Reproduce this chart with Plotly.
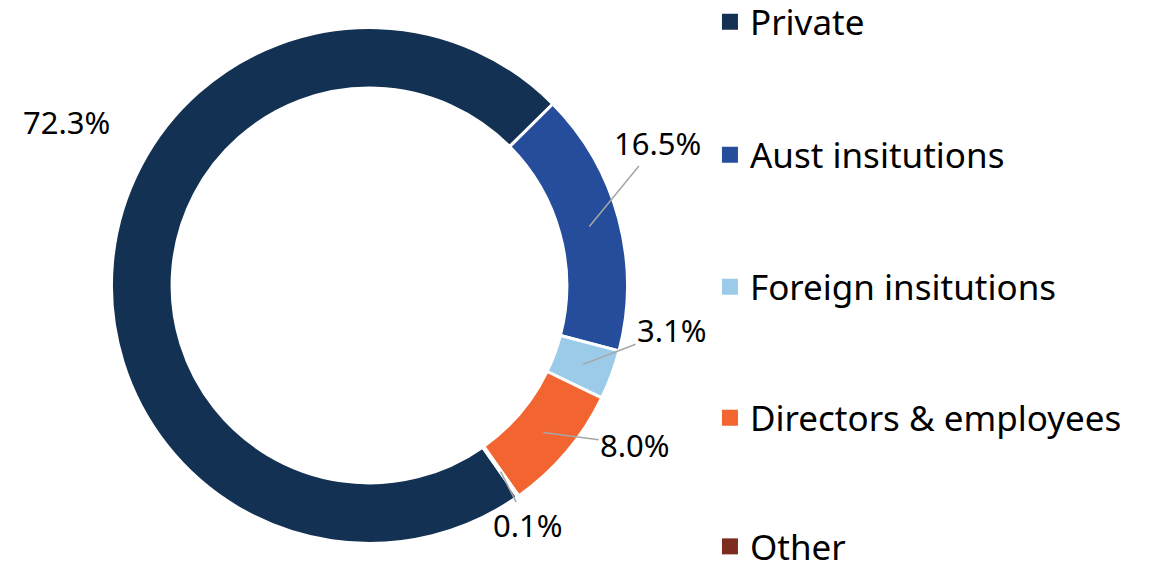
import math
import plotly.graph_objects as go

labels = ["Private", "Aust insitutions", "Foreign insitutions", "Directors & employees", "Other"]
shares = [72.3, 16.5, 3.1, 8.0, 0.1]
colors = ["#133152", "#264d9b", "#9ccbea", "#f26531", "#7d2a1f"]

# the page body has an 8px margin, so the figure is sized to what stays visible
W, H = 1150, 557
ROTATION = 145
HOLE = 0.765
DOM_X = [0.0843, 0.5443]
DOM_Y = [0.0386, 0.965]

# label offsets (px) from the middle of each slice, Excel-style placement
label_offsets = [(-76, -143), (68, -83), (89, -34), (92, 12), (27, 53)]
# legend item centres (paper y), one legend per item to mimic the wide spacing
legend_y = [0.975, 0.736, 0.499, 0.264, 0.033]

fig = go.Figure()

fig.add_trace(go.Pie(
    labels=labels,
    values=shares,
    textinfo="none",
    hole=HOLE,
    sort=False,
    direction="clockwise",
    rotation=ROTATION,
    marker=dict(colors=colors, line=dict(color="white", width=3)),
    showlegend=False,
    hoverinfo="label+percent",
    domain=dict(x=DOM_X, y=DOM_Y),
))

# slice mid-points (on the ring) in paper coordinates
cx = (DOM_X[0] + DOM_X[1]) / 2 * W
cy = (1 - (DOM_Y[0] + DOM_Y[1]) / 2) * H
r_out = min((DOM_X[1] - DOM_X[0]) * W, (DOM_Y[1] - DOM_Y[0]) * H) / 2
r_mid = r_out * (1 + HOLE) / 2
total = sum(shares)
cum = 0
for i, v in enumerate(shares):
    theta = math.radians(ROTATION + 360 * (cum + v / 2) / total)
    cum += v
    px = cx + r_mid * math.sin(theta)
    py = cy - r_mid * math.cos(theta)
    ax, ay = label_offsets[i]
    fig.add_annotation(
        x=px / W, y=1 - py / H, xref="paper", yref="paper",
        text=f"{v:.1f}%",
        showarrow=True,
        ax=ax, ay=ay,
        arrowhead=0,
        arrowwidth=1.5,
        arrowcolor="#a6a6a6" if i > 0 else "rgba(0,0,0,0)",
        standoff=0,
        font=dict(size=31, color="black"),
    )

legend_layout = {}
for i, (name, color) in enumerate(zip(labels, colors)):
    key = "legend" if i == 0 else f"legend{i + 1}"
    fig.add_trace(go.Scatter(
        x=[None], y=[None],
        mode="markers",
        name=name,
        legend=key,
        marker=dict(symbol="square", size=16, color=color),
    ))
    legend_layout[key] = dict(
        x=0.6104,
        y=legend_y[i],
        xanchor="left",
        yanchor="middle",
        font=dict(size=35, color="black"),
        itemwidth=30,
        bgcolor="rgba(0,0,0,0)",
    )

fig.update_layout(
    width=W,
    height=H,
    paper_bgcolor="white",
    plot_bgcolor="white",
    font=dict(family="Noto Sans", color="black"),
    margin=dict(l=0, r=0, t=0, b=0, autoexpand=False),
    xaxis=dict(visible=False),
    yaxis=dict(visible=False),
    showlegend=True,
    **legend_layout,
)

fig.write_html("out.html")
